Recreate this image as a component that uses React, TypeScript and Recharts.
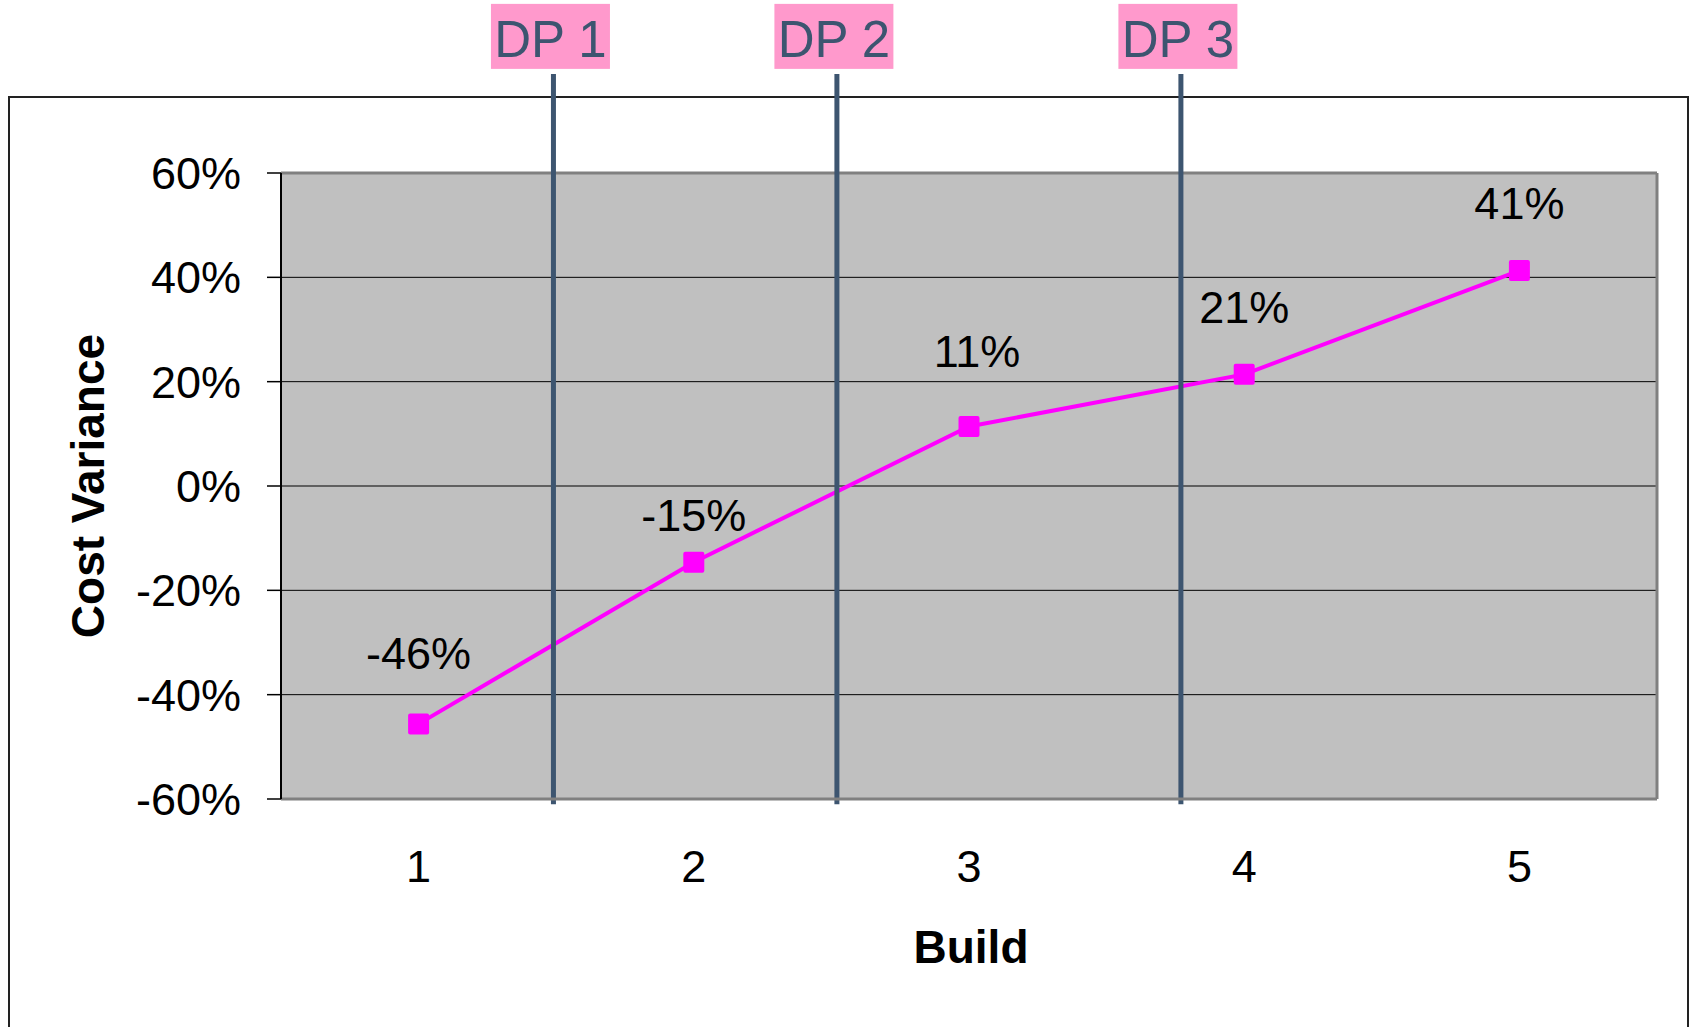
import React from 'react'
import { LineChart, Line, XAxis, YAxis, CartesianGrid, ReferenceLine, LabelList } from 'recharts'

const FONT = '"Liberation Sans", Arial, sans-serif'

// data
const builds = [1, 2, 3, 4, 5]
const costVariance = [-0.456, -0.146, 0.114, 0.214, 0.413]
const yTicks = [-0.6, -0.4, -0.2, 0, 0.2, 0.4, 0.6]
const decisionNames = ['DP 1', 'DP 2', 'DP 3']
const decisionBuilds = [1.49, 2.52, 3.77]

// label nudges (px) relative to each marker
const LABEL_DY = [-71, -47, -76, -67, -68]
const LABEL_DX = [0, 0, 8, 0, 0]

const DP_TOP = 0.79
const DP_BOTTOM = -0.61
const DP_COLOR = '#3D5570'

const chartData = builds.map((b, i) => ({ build: b, variance: costVariance[i] }))

const pct = (v: number) => `${Math.round(v * 100)}%`

const SquareDot = (props: any) => {
  const { cx, cy, index } = props
  if (cx == null || cy == null) return <g key={index} />
  return <rect key={index} x={cx - 10.5} y={cy - 10.5} width={21} height={21} rx={2} fill="#FF00FF" />
}

const ValueLabel = (props: any) => {
  const { x, y, value, index } = props
  return (
    <text
      x={x + LABEL_DX[index]}
      y={y + LABEL_DY[index] + 16}
      textAnchor="middle"
      fontSize={45}
      fontFamily={FONT}
      fill="#000"
    >
      {pct(value)}
    </text>
  )
}

const DpTag = (props: any) => {
  const { viewBox, text } = props
  if (!viewBox) return null
  const cx = viewBox.x - 3
  const top = viewBox.y
  return (
    <g>
      <rect x={cx - 59.5} y={top - 70} width={119} height={65} fill="#FF99CC" />
      <text x={cx} y={top - 17} textAnchor="middle" fontSize={51} fontFamily={FONT} fill={DP_COLOR}>
        {text}
      </text>
    </g>
  )
}

const XTitle = (props: any) => {
  const vb = props.viewBox
  return (
    <text x={vb.x + vb.width / 2 + 2} y={vb.y + 164} textAnchor="middle" fontSize={46} fontWeight="bold" fontFamily={FONT} fill="#000">
      Build
    </text>
  )
}

const YTitle = (props: any) => {
  const vb = props.viewBox
  const cy = vb.y + vb.height / 2
  return (
    <text x={104} y={cy} transform={`rotate(-90, 104, ${cy})`} textAnchor="middle" fontSize={46} fontWeight="bold" fontFamily={FONT} fill="#000">
      Cost Variance
    </text>
  )
}

export default function App() {
  return (
    <div style={{ position: 'absolute', left: 0, top: 0, width: 1690, height: 1027, overflow: 'hidden', background: '#fff' }}>
      <div
        style={{
          position: 'absolute',
          left: 8,
          top: 96,
          width: 1681,
          height: 1100,
          boxSizing: 'border-box',
          border: '2px solid #222',
        }}
      />
      <LineChart
        width={1690}
        height={1027}
        data={chartData}
        margin={{ top: 173, right: 33, bottom: 28, left: 81 }}
        style={{ position: 'absolute', left: 0, top: 0 }}
      >
        <CartesianGrid vertical={false} stroke="#000" strokeWidth={1} fill="#C0C0C0" fillOpacity={1} />
        <XAxis
          dataKey="build"
          type="number"
          domain={[0.5, 5.5]}
          ticks={builds}
          allowDataOverflow
          height={200}
          tickLine={false}
          tickSize={0}
          tickMargin={51}
          axisLine={{ stroke: '#808080', strokeWidth: 3 }}
          tick={{ fontSize: 45, fill: '#000', fontFamily: FONT }}
          label={{ content: <XTitle /> } as any}
        />
        <YAxis
          type="number"
          domain={[-0.6, 0.6]}
          ticks={yTicks}
          allowDataOverflow
          width={200}
          tickFormatter={pct}
          tickSize={14}
          tickMargin={26}
          tickLine={{ stroke: '#000', strokeWidth: 1.5 }}
          axisLine={{ stroke: '#000', strokeWidth: 2 }}
          tick={{ fontSize: 45, fill: '#000', fontFamily: FONT }}
          label={{ content: <YTitle /> } as any}
        />
        <ReferenceLine y={0.6} stroke="#808080" strokeWidth={3} />
        <ReferenceLine x={5.5} stroke="#808080" strokeWidth={3} />
        <Line
          type="linear"
          dataKey="variance"
          stroke="#FF00FF"
          strokeWidth={4}
          dot={SquareDot}
          activeDot={false}
          isAnimationActive={false}
        >
          <LabelList dataKey="variance" content={ValueLabel} />
        </Line>
        {decisionBuilds.map((b, i) => (
          <ReferenceLine
            key={decisionNames[i]}
            segment={[{ x: b, y: DP_TOP }, { x: b, y: DP_BOTTOM }]}
            stroke={DP_COLOR}
            strokeWidth={5}
            ifOverflow="visible"
            label={<DpTag text={decisionNames[i]} />}
          />
        ))}
      </LineChart>
    </div>
  )
}
